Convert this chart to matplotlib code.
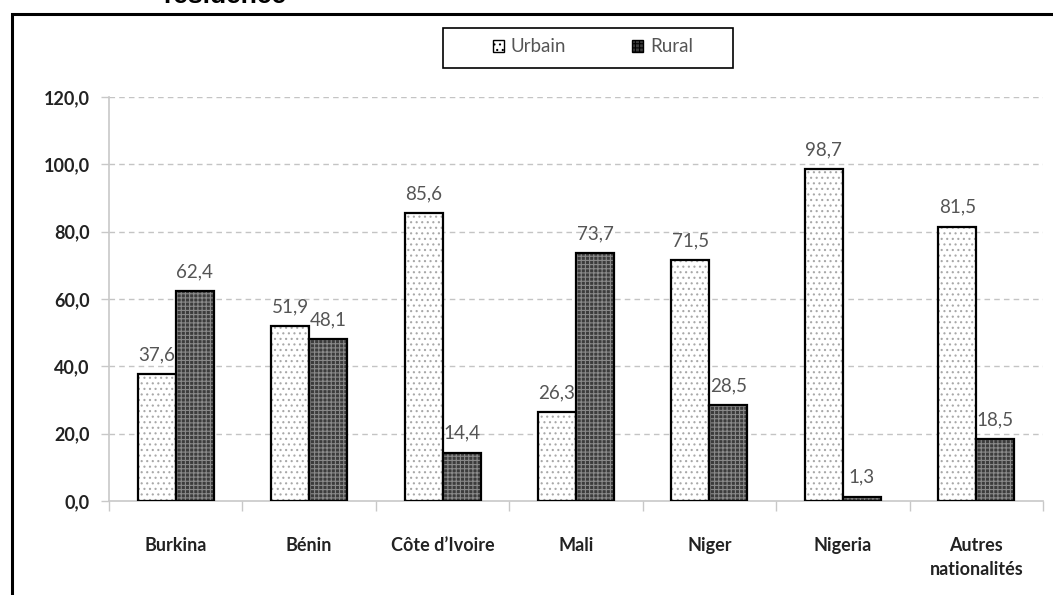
import matplotlib.pyplot as plt
import numpy as np
from matplotlib.patches import Rectangle, Patch

categories = ['Burkina', 'Bénin', 'Côte d\u2019Ivoire', 'Mali', 'Niger', 'Nigeria', 'Autres\nnationalités']
urbain = [37.6, 51.9, 85.6, 26.3, 71.5, 98.7, 81.5]
rural = [62.4, 48.1, 14.4, 73.7, 28.5, 1.3, 18.5]
yticks = [0, 20, 40, 60, 80, 100, 120]

plt.rcParams['font.family'] = ['Lato', 'DejaVu Sans']
plt.rcParams['hatch.linewidth'] = 0.8

fig = plt.figure(figsize=(10.53, 5.95), dpi=100)
ax = fig.add_axes([109/1053, 1 - 501/595, (1043 - 109)/1053, (501 - 97)/595])

x = np.arange(len(categories))
w = 0.285

# hatched fills, then black outlines on top
ax.bar(x - w/2, urbain, w, color='white', edgecolor='#a8a8a8', hatch='...', linewidth=0, zorder=2)
ax.bar(x + w/2, rural, w, color='#3c3c3c', edgecolor='#8a8a8a', hatch='++++', linewidth=0, zorder=2)
ax.bar(x - w/2, urbain, w, fill=False, edgecolor='black', linewidth=1.6, zorder=3)
ax.bar(x + w/2, rural, w, fill=False, edgecolor='black', linewidth=1.6, zorder=3)

for i in range(len(categories)):
    ax.text(x[i] - w/2, urbain[i] + 3.2, ('%.1f' % urbain[i]).replace('.', ','),
            ha='center', va='bottom', fontsize=13.5, color='#555555', zorder=4)
    ax.text(x[i] + w/2, rural[i] + 3.2, ('%.1f' % rural[i]).replace('.', ','),
            ha='center', va='bottom', fontsize=13.5, color='#555555', zorder=4)

ax.set_xlim(-0.5, len(categories) - 0.5)
ax.set_ylim(0, 120)
ax.set_yticks(yticks)
ax.set_yticklabels([('%.1f' % v).replace('.', ',') for v in yticks], fontsize=13, fontweight='bold', color='#222222')
ax.set_xticks(np.arange(len(categories) + 1) - 0.5)
ax.set_xticklabels([])
ax.set_xticks(x, minor=True)
ax.set_xticklabels(categories, minor=True, fontsize=13, fontweight='bold', color='#222222',
                   linespacing=1.5)
ax.tick_params(axis='x', which='minor', length=0, pad=26)
ax.tick_params(axis='x', which='major', length=7, color='#c8c8c8', width=1)
ax.tick_params(axis='y', length=6, color='#c8c8c8', width=1, pad=8)

for v in yticks[1:]:
    ax.axhline(v, color='#c4c4c4', linestyle=(0, (4, 3)), linewidth=1, zorder=1)

for s in ['top', 'right']:
    ax.spines[s].set_visible(False)
ax.spines['left'].set_color('#c8c8c8')
ax.spines['bottom'].set_color('#c8c8c8')
ax.spines['left'].set_linewidth(1.2)
ax.spines['bottom'].set_linewidth(1.2)

handles = [Patch(facecolor='white', edgecolor='black', hatch='...', label='Urbain'),
           Patch(facecolor='#3c3c3c', edgecolor='black', hatch='++++', label='Rural')]
leg = fig.legend(handles=handles, loc='center', bbox_to_anchor=(593/1053, 1 - 47/595), ncol=2,
                 frameon=False, fontsize=13.5, handlelength=0.6, handleheight=0.6,
                 handletextpad=0.35, columnspacing=3.5, borderpad=0, borderaxespad=0)
for t in leg.get_texts():
    t.set_color('#555555')
# legend box drawn separately (wide padding in the reference)
fig.add_artist(Rectangle((443/1053, 1 - 68/595), 290/1053, 40/595, transform=fig.transFigure,
                         fill=False, edgecolor='black', linewidth=1.2))

# outer frame, partly outside the picture
fig.add_artist(Rectangle((12/1053, -0.2), 1.2, 1.2 - 14/595, transform=fig.transFigure,
                         fill=False, edgecolor='black', linewidth=2.2))

fig.text(163/1053, 1 - 3/595, 'résidence', fontsize=19, fontweight='bold',
         family='Liberation Sans', ha='left', va='baseline')

fig.savefig('out.png', dpi=100)
